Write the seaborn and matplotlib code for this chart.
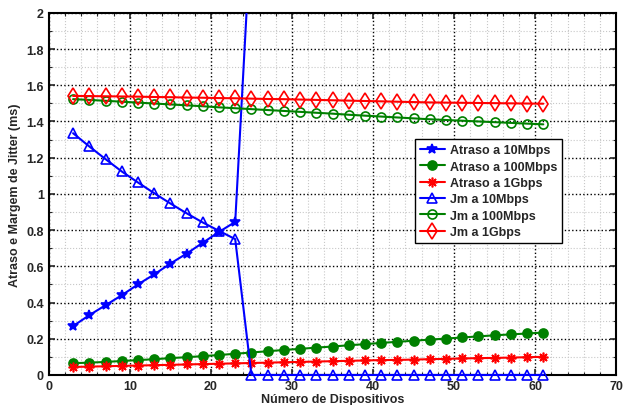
"""
plot.py - Atraso e margem de jitter vs numero de dispositivos
"""
import matplotlib
matplotlib.use("Agg")
import matplotlib.pyplot as plt
from matplotlib.ticker import MultipleLocator
import numpy as np
import pandas as pd
import seaborn as sns

# ---- data ----
devices = list(range(3, 63, 2))

# Atraso a 10Mbps: shoots off the top after 23 devices
devices_10m = list(range(3, 27, 2))
atraso_10m = [0.27, 0.33, 0.385, 0.44, 0.50, 0.555, 0.615, 0.67, 0.73, 0.79, 0.845, 2.5]

atraso_100m = [0.065, 0.068, 0.072, 0.077, 0.082, 0.087, 0.093, 0.098, 0.104, 0.110,
               0.117, 0.124, 0.131, 0.138, 0.144, 0.151, 0.157, 0.164, 0.170, 0.177,
               0.183, 0.189, 0.195, 0.201, 0.207, 0.213, 0.219, 0.224, 0.229, 0.234]

atraso_1g = [0.044, 0.046, 0.048, 0.050, 0.052, 0.054, 0.056, 0.058, 0.060, 0.062,
             0.064, 0.066, 0.068, 0.070, 0.072, 0.074, 0.076, 0.078, 0.080, 0.082,
             0.083, 0.085, 0.087, 0.089, 0.091, 0.093, 0.094, 0.096, 0.098, 0.100]

jm_10m = [1.335, 1.262, 1.192, 1.124, 1.063, 1.004, 0.947, 0.893, 0.842, 0.796,
          0.750, 0.0, 0.0, 0.0, 0.0, 0.0, 0.0, 0.0, 0.0, 0.0,
          0.0, 0.0, 0.0, 0.0, 0.0, 0.0, 0.0, 0.0, 0.0, 0.0]

jm_100m = [1.523, 1.519, 1.514, 1.509, 1.504, 1.499, 1.494, 1.489, 1.484, 1.478,
           1.473, 1.468, 1.463, 1.458, 1.453, 1.448, 1.443, 1.437, 1.432, 1.427,
           1.422, 1.417, 1.412, 1.408, 1.404, 1.400, 1.396, 1.392, 1.388, 1.384]

jm_1g = [1.541, 1.540, 1.539, 1.538, 1.537, 1.535, 1.534, 1.532, 1.531, 1.529,
         1.528, 1.526, 1.524, 1.523, 1.521, 1.519, 1.517, 1.515, 1.513, 1.511,
         1.509, 1.507, 1.505, 1.504, 1.503, 1.502, 1.501, 1.500, 1.499, 1.498]

BLUE = "#0000ff"
GREEN = "#008000"
RED = "#ff0000"
ASTERISK = (8, 2, 0)

sns.set_style("ticks")
plt.rcParams["font.family"] = ["Liberation Sans", "DejaVu Sans"]
plt.rcParams["font.weight"] = "bold"

fig = plt.figure(figsize=(6.25, 4.06), dpi=100)
ax = fig.add_axes([0.078, 0.074, 0.908, 0.892])

# label, x, y, colour, marker, filled, size, clip
series = [
    ("Atraso a 10Mbps", devices_10m, atraso_10m, BLUE, "*", True, 7.5, True),
    ("Atraso a 100Mbps", devices, atraso_100m, GREEN, "o", True, 6.5, True),
    ("Atraso a 1Gbps", devices, atraso_1g, RED, ASTERISK, True, 7, True),
    ("Jm a 10Mbps", devices, jm_10m, BLUE, "^", False, 7.5, False),
    ("Jm a 100Mbps", devices, jm_100m, GREEN, "o", False, 6.5, True),
    ("Jm a 1Gbps", devices, jm_1g, RED, "d", False, 8, True),
]

for label, xs, ys, color, marker, filled, ms, clip in series:
    df = pd.DataFrame({"x": xs, "y": ys})
    sns.lineplot(data=df, x="x", y="y", ax=ax, color=color, marker=marker,
                 markersize=ms, markeredgecolor=color,
                 markerfacecolor=color if filled else "none",
                 markeredgewidth=1.2, linewidth=1.5, label=label, clip_on=clip,
                 zorder=3)

ax.set_xlim(0, 70)
ax.set_ylim(0, 2)
ax.xaxis.set_major_locator(MultipleLocator(10))
ax.xaxis.set_minor_locator(MultipleLocator(2))
ax.yaxis.set_major_locator(MultipleLocator(0.2))
ax.yaxis.set_minor_locator(MultipleLocator(0.1))
ax.set_yticks(np.arange(0, 2.01, 0.2))
ax.set_yticklabels(["0", "0.2", "0.4", "0.6", "0.8", "1", "1.2", "1.4", "1.6", "1.8", "2"])

ax.grid(which="major", color="black", linestyle=":", linewidth=1.0)
ax.grid(which="minor", color="#c8c8c8", linestyle=":", linewidth=0.8)
ax.set_axisbelow(True)

ax.tick_params(which="both", direction="in", top=True, right=True, labelsize=9)
ax.tick_params(which="major", length=4, width=1.2)
ax.tick_params(which="minor", length=2, width=0.8)
for s in ax.spines.values():
    s.set_linewidth(1.5)
    s.set_color("black")
for lbl in ax.get_xticklabels() + ax.get_yticklabels():
    lbl.set_fontweight("bold")

ax.set_xlabel("Número de Dispositivos", fontsize=9, fontweight="bold", labelpad=1)
ax.set_ylabel("Atraso e Margem de Jitter (ms)", fontsize=9, fontweight="bold", labelpad=4)

leg = ax.legend(loc="upper left", bbox_to_anchor=(0.634, 0.668), fontsize=9,
                frameon=True, fancybox=False, framealpha=1, edgecolor="black",
                handlelength=2.0, borderpad=0.4, labelspacing=0.35, handletextpad=0.4)
leg.get_frame().set_linewidth(1.0)
leg.set_zorder(5)
for t in leg.get_texts():
    t.set_fontweight("bold")

fig.savefig("out.png", dpi=100)
